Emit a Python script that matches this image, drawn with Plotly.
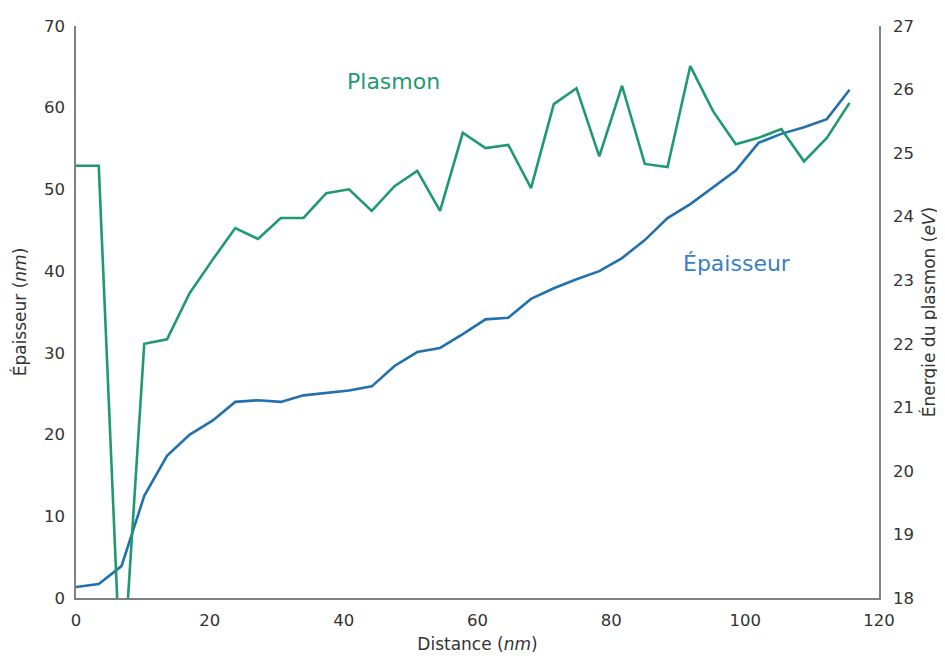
import plotly.graph_objects as go

# Distance along the profile (nm)
distance = [round(i * 3.4, 1) for i in range(35)]

# Thickness (nm), left axis
epaisseur = [1.35, 1.7, 3.9, 12.5, 17.4, 20.0, 21.7, 24.0, 24.2, 24.0,
             24.8, 25.1, 25.4, 25.9, 28.4, 30.1, 30.6, 32.3, 34.1, 34.3,
             36.6, 37.9, 39.0, 40.0, 41.6, 43.8, 46.5, 48.2, 50.2, 52.3,
             55.7, 56.8, 57.6, 58.6, 62.2]

# Plasmon energy (eV), right axis
plasmon = [24.80, 24.80, 16.4, 22.0, 22.07, 22.80, 23.32, 23.82, 23.65, 23.98,
           23.98, 24.37, 24.43, 24.09, 24.48, 24.72, 24.09, 25.32, 25.08, 25.13,
           24.45, 25.77, 26.02, 24.95, 26.06, 24.83, 24.78, 26.37, 25.66, 25.14,
           25.24, 25.38, 24.87, 25.24, 25.79]

green = "#1f9a6f"
blue = "#2370ae"
font = "DejaVu Sans"

fig = go.Figure()

fig.add_trace(go.Scatter(x=distance, y=epaisseur, mode="lines",
                         line=dict(color=blue, width=2.6), name="Épaisseur"))
fig.add_trace(go.Scatter(x=distance, y=plasmon, mode="lines", yaxis="y2",
                         line=dict(color=green, width=2.6), name="Plasmon"))

# labels next to the curves
fig.add_annotation(x=47.4, y=63.2, text="Plasmon", showarrow=False,
                   font=dict(color=green, size=22, family=font))
fig.add_annotation(x=98.8, y=40.9, text="Épaisseur", showarrow=False,
                   font=dict(color="#3a7fbf", size=22, family=font))

axis_style = dict(showgrid=False, zeroline=False, showline=True, linecolor="#808080",
                  linewidth=1.5, ticks="", automargin=False,
                  tickfont=dict(size=16.5, color="#333333", family=font))

fig.update_layout(
    width=945, height=656,
    margin=dict(l=68, r=74, t=18, b=66),
    paper_bgcolor="white", plot_bgcolor="white",
    showlegend=False,
    font=dict(family=font, color="#333333"),
    xaxis=dict(range=[0, 120], dtick=20, ticklabelstandoff=6,
               title=dict(text="Distance (<i>nm</i>)", font=dict(size=17), standoff=10),
               **axis_style),
    yaxis=dict(range=[0, 70], dtick=10, ticklabelstandoff=6,
               title=dict(text="Épaisseur (<i>nm</i>)", font=dict(size=17), standoff=13),
               **axis_style),
    yaxis2=dict(range=[18, 27], dtick=1, overlaying="y", side="right", ticklabelstandoff=9,
                title=dict(text="Énergie du plasmon (<i>eV</i>)", font=dict(size=17), standoff=10),
                **axis_style),
)

fig.write_html("out.html")
